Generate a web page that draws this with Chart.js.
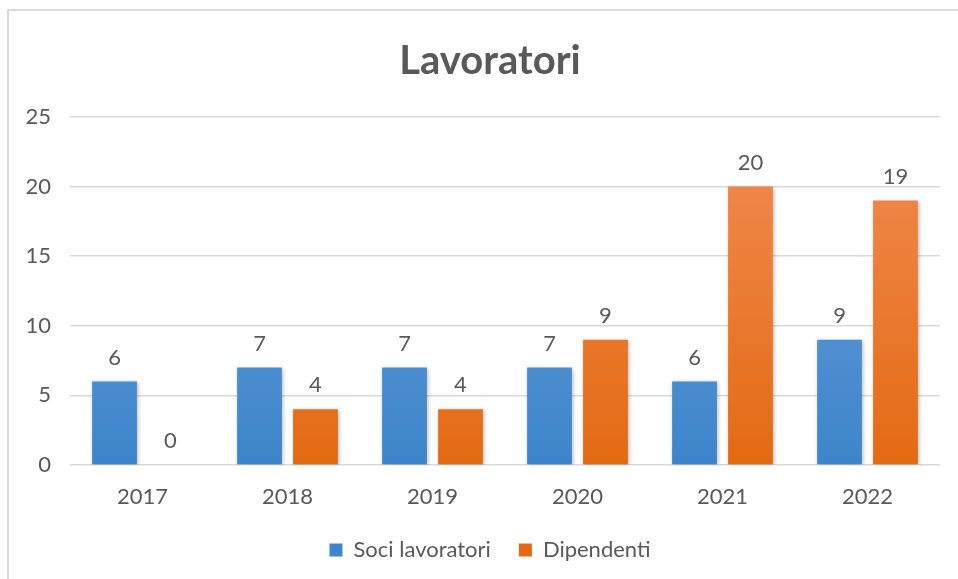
<!DOCTYPE html>
<html>
<head>
<meta charset="utf-8">
<script src="https://cdn.jsdelivr.net/npm/chart.js@4.4.0/dist/chart.umd.min.js"></script>
<style>
  html, body { margin: 0; padding: 0; background: #fff; }
  #wrap { position: relative; width: 958px; height: 579px; overflow: hidden; }
  #frame { position: absolute; left: 7px; top: 9px; width: 1000px; height: 1000px;
           border-left: 2px solid #d9d9d9; border-top: 2px solid #d9d9d9; }
  #chart { position: absolute; left: 0; top: 0; }
</style>
</head>
<body>
<div id="wrap">
  <div id="frame"></div>
  <canvas id="chart" width="958" height="579"></canvas>
</div>
<script>
const years = ['2017', '2018', '2019', '2020', '2021', '2022'];
const soci = [6, 7, 7, 7, 6, 9];
const dipendenti = [0, 4, 4, 9, 20, 19];
const seriesNames = ['Soci lavoratori', 'Dipendenti'];
const yTicks = [0, 5, 10, 15, 20, 25];

const FONT = 'Lato, "Open Sans", sans-serif';
const TXT = '#595959';

function grad(top, bottom){
  return (ctx) => {
    const area = ctx.chart.chartArea;
    if (!area) return bottom;
    const g = ctx.chart.ctx.createLinearGradient(0, area.top, 0, area.bottom);
    g.addColorStop(0, top); g.addColorStop(1, bottom);
    return g;
  };
}

// soft shadow under bars, value labels on top, y tick labels (axis box is narrow so drawn here)
const barExtras = {
  id: 'barExtras',
  beforeDatasetsDraw(chart){
    const c = chart.ctx; c.save();
    c.shadowColor = 'rgba(0,0,0,0.28)'; c.shadowBlur = 4; c.shadowOffsetX = 1; c.shadowOffsetY = 1;
  },
  afterDatasetsDraw(chart){
    const c = chart.ctx; c.restore();
    c.save();
    c.font = '22px ' + FONT; c.fillStyle = TXT; c.textAlign = 'center'; c.textBaseline = 'middle';
    chart.data.datasets.forEach((ds, i) => {
      chart.getDatasetMeta(i).data.forEach((bar, j) => {
        c.fillText(String(ds.data[j]), bar.x, bar.y - 24);
      });
    });
    const y = chart.scales.y;
    c.textAlign = 'right';
    yTicks.forEach(v => c.fillText(String(v), chart.chartArea.left - 19, y.getPixelForValue(v)));
    c.restore();
  }
};

new Chart(document.getElementById('chart'), {
  type: 'bar',
  data: {
    labels: years,
    datasets: [
      { label: seriesNames[0], data: soci, backgroundColor: grad('#6ea5dd', '#3d84ca'),
        categoryPercentage: 0.772, barPercentage: 0.80 },
      { label: seriesNames[1], data: dipendenti, backgroundColor: grad('#f28d55', '#e36a12'),
        categoryPercentage: 0.772, barPercentage: 0.80 }
    ]
  },
  plugins: [barExtras],
  options: {
    responsive: false,
    animation: false,
    layout: { padding: { left: 40, right: 18, top: 0, bottom: 8 } },
    plugins: {
      title: { display: true, text: 'Lavoratori', color: TXT,
               font: { family: FONT, size: 40, weight: 'bold' },
               padding: { top: 37, bottom: 32 } },
      legend: { position: 'bottom',
                labels: { color: TXT, font: { family: FONT, size: 22 },
                          boxWidth: 13, boxHeight: 13, padding: 28 } },
      tooltip: { enabled: false }
    },
    scales: {
      x: {
        afterFit(s){ s.height = 46; },
        grid: { display: false },
        border: { display: false },
        ticks: { color: TXT, font: { family: FONT, size: 22 }, padding: 11 }
      },
      y: {
        min: 0, max: 25,
        afterFit(s){ s.width = 30; },
        afterBuildTicks(s){ s.ticks = yTicks.map(v => ({ value: v })); },
        grid: { color: '#d9d9d9', lineWidth: 1.5, drawTicks: false },
        border: { display: false },
        ticks: { display: false }
      }
    }
  }
});
</script>
</body>
</html>
